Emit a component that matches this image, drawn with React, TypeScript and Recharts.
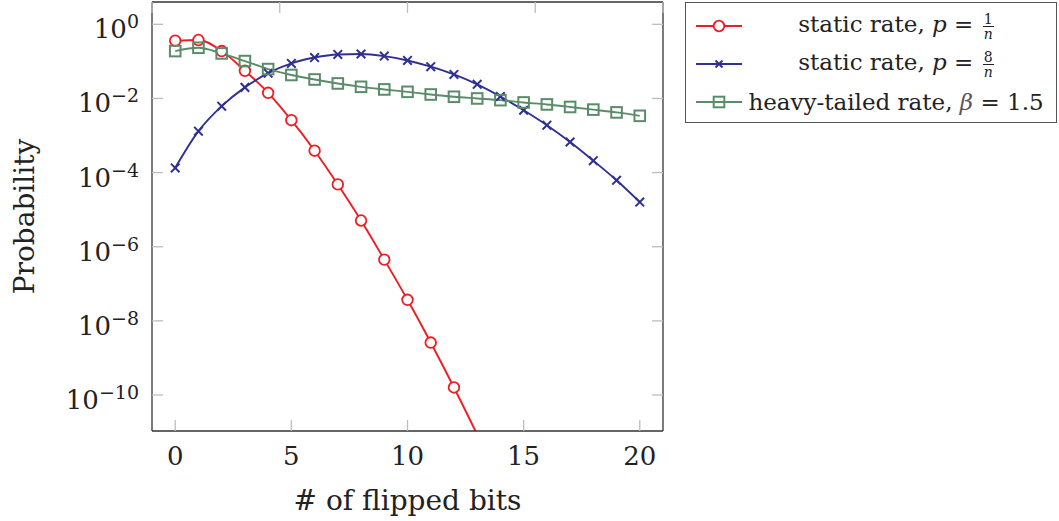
import { LineChart, Line, XAxis, YAxis } from 'recharts';

const bits = [0, 1, 2, 3, 4, 5, 6, 7, 8, 9, 10, 11, 12, 13, 14, 15, 16, 17, 18, 19, 20];
const staticOne = [0.361, 0.377, 0.19, 0.0557, 0.0142, 0.00259, 3.9e-4, 4.8e-5, 5.1e-6, 4.5e-7, 3.7e-8, 2.6e-9, 1.6e-10, 8.6e-12];
const staticEight = [1.34e-4, 1.31e-3, 6.2e-3, 0.0199, 0.048, 0.088, 0.127, 0.154, 0.158, 0.139, 0.106, 0.072, 0.0445, 0.024, 0.0113, 4.8e-3, 1.9e-3, 6.7e-4, 2.1e-4, 6.2e-5, 1.6e-5];
const heavyTailed = [0.19, 0.233, 0.164, 0.102, 0.062, 0.043, 0.0325, 0.0254, 0.0206, 0.0175, 0.0151, 0.0128, 0.0111, 0.01, 0.009, 0.0078, 0.0069, 0.0059, 0.005, 0.0042, 0.0034];
const xTicks = [0, 5, 10, 15, 20];
const yTicks = [1, 1e-2, 1e-4, 1e-6, 1e-8, 1e-10];

const data = bits.map((k, i) => ({
  k,
  s1: staticOne[i],
  s8: staticEight[i],
  ht: heavyTailed[i],
}));

const RED = '#ee1d23';
const BLUE = '#2e3192';
const GREEN = '#5b8c6a';
const FRAME = '#333';
const TICK = '#bdbdbd';
const FONT = '"DejaVu Serif", serif';
const yDomain = [1.07e-11, 4];

// points below the visible range get no marker, only the clipped line
const hidden = (props: any) => {
  const { cx, cy, value } = props;
  const v = Array.isArray(value) ? value[1] : value;
  return cx == null || cy == null || Number.isNaN(cy) || v == null || v < yDomain[0];
};

const circleDot = (props: any) => {
  if (hidden(props)) return <g key={`c${props.index}`} />;
  const { cx, cy, index } = props;
  return <circle key={`c${index}`} cx={cx} cy={cy} r={5.3} fill="#fff" stroke={RED} strokeWidth={1.8} />;
};

const crossDot = (props: any) => {
  if (hidden(props)) return <g key={`x${props.index}`} />;
  const { cx, cy, index } = props;
  const d = 4.3;
  return (
    <g key={`x${index}`} stroke={BLUE} strokeWidth={2}>
      <line x1={cx - d} y1={cy - d} x2={cx + d} y2={cy + d} />
      <line x1={cx - d} y1={cy + d} x2={cx + d} y2={cy - d} />
    </g>
  );
};

const squareDot = (props: any) => {
  if (hidden(props)) return <g key={`s${props.index}`} />;
  const { cx, cy, index } = props;
  return <rect key={`s${index}`} x={cx - 5.3} y={cy - 5.3} width={10.6} height={10.6} fill="none" stroke={GREEN} strokeWidth={2} />;
};

const LeftTick = (props: any) => {
  const { x, y, payload } = props;
  const exp = Math.round(Math.log10(payload.value));
  return (
    <g>
      <line x1={x} x2={x + 11} y1={y} y2={y} stroke={TICK} strokeWidth={1.3} />
      <text x={x - 13} y={y + 14} textAnchor="end" fontFamily={FONT} fontSize={26} fill="#222">
        10
        <tspan dy={-10} fontSize={19}>{exp === 0 ? '0' : '\u2212' + Math.abs(exp)}</tspan>
      </text>
    </g>
  );
};

const RightTick = (props: any) => {
  const { x, y } = props;
  return <line x1={x - 11} x2={x} y1={y} y2={y} stroke={TICK} strokeWidth={1.3} />;
};

const BottomTick = (props: any) => {
  const { x, y, payload } = props;
  return (
    <g>
      <line x1={x} x2={x} y1={y} y2={y - 11} stroke={TICK} strokeWidth={1.3} />
      <text x={x} y={y + 34} textAnchor="middle" fontFamily={FONT} fontSize={26} fill="#222">
        {payload.value}
      </text>
    </g>
  );
};

const TopTick = (props: any) => {
  const { x, y } = props;
  return <line x1={x} x2={x} y1={y} y2={y + 11} stroke={TICK} strokeWidth={1.3} />;
};

function Sample({ kind, color }: { kind: string; color: string }) {
  return (
    <svg width={46} height={20} style={{ display: 'block' }}>
      <line x1={0} x2={46} y1={10} y2={10} stroke={color} strokeWidth={1.8} />
      {kind === 'circle' && <circle cx={23} cy={10} r={5.3} fill="#fff" stroke={color} strokeWidth={1.8} />}
      {kind === 'cross' && (
        <g stroke={color} strokeWidth={2}>
          <line x1={19.5} y1={6.5} x2={26.5} y2={13.5} />
          <line x1={19.5} y1={13.5} x2={26.5} y2={6.5} />
        </g>
      )}
      {kind === 'square' && <rect x={17.7} y={4.7} width={10.6} height={10.6} fill="none" stroke={color} strokeWidth={2} />}
    </svg>
  );
}

function Frac({ num }: { num: string }) {
  return (
    <span style={{ display: 'inline-flex', flexDirection: 'column', alignItems: 'center', verticalAlign: 'middle', fontSize: 14, lineHeight: '14px', marginLeft: 2 }}>
      <span>{num}</span>
      <span style={{ borderTop: '1px solid #222', fontStyle: 'italic', padding: '0 1px' }}>n</span>
    </span>
  );
}

const rowStyle = { display: 'flex', alignItems: 'center', height: 38 };
const textStyle = { flex: 1, textAlign: 'center' as const, whiteSpace: 'nowrap' as const };

function ChartLegend() {
  return (
    <div
      style={{
        position: 'absolute',
        left: 685,
        top: 2,
        width: 372,
        height: 121,
        boxSizing: 'border-box',
        border: '1.3px solid #555',
        background: '#fff',
        padding: '4px 6px 0 10px',
        fontFamily: FONT,
        fontSize: 23,
        color: '#222',
      }}
    >
      <div style={rowStyle}>
        <Sample kind="circle" color={RED} />
        <span style={textStyle}>
          static rate, <i>p</i> = <Frac num="1" />
        </span>
      </div>
      <div style={rowStyle}>
        <Sample kind="cross" color={BLUE} />
        <span style={textStyle}>
          static rate, <i>p</i> = <Frac num="8" />
        </span>
      </div>
      <div style={rowStyle}>
        <Sample kind="square" color={GREEN} />
        <span style={textStyle}>
          heavy-tailed rate, <i style={{ color: '#555' }}>β</i> = 1.5
        </span>
      </div>
    </div>
  );
}

export default function App() {
  return (
    <div style={{ position: 'absolute', left: 0, top: 0, width: 1059, height: 521, background: '#fff' }}>
      <LineChart width={1059} height={521} data={data} margin={{ top: 1, right: 395, bottom: 0, left: 0 }}>
        <XAxis
          dataKey="k"
          type="number"
          domain={[-1, 21]}
          ticks={xTicks}
          allowDataOverflow
          height={90}
          tickSize={0}
          tickMargin={0}
          tickLine={false}
          tick={BottomTick}
          axisLine={{ stroke: FRAME, strokeWidth: 1.3 }}
          label={{ value: '# of flipped bits', position: 'insideBottom', offset: 11, fontFamily: FONT, fontSize: 28, fill: '#222' }}
        />
        <XAxis
          xAxisId="top"
          orientation="top"
          type="number"
          domain={[-1, 21]}
          ticks={xTicks}
          allowDataOverflow
          height={1}
          tickSize={0}
          tickMargin={0}
          tickLine={false}
          tick={TopTick}
          axisLine={{ stroke: FRAME, strokeWidth: 1.3 }}
        />
        <YAxis
          scale="log"
          type="number"
          domain={yDomain}
          ticks={yTicks}
          allowDataOverflow
          width={152}
          tickSize={0}
          tickMargin={0}
          tickLine={false}
          tick={LeftTick}
          axisLine={{ stroke: FRAME, strokeWidth: 1.3 }}
          label={{ value: 'Probability', angle: -90, position: 'insideLeft', offset: 24, fontFamily: FONT, fontSize: 28, fill: '#222', style: { textAnchor: 'middle' } }}
        />
        <YAxis
          yAxisId="right"
          orientation="right"
          scale="log"
          type="number"
          domain={yDomain}
          ticks={yTicks}
          allowDataOverflow
          width={1}
          tickSize={0}
          tickMargin={0}
          tickLine={false}
          tick={RightTick}
          axisLine={{ stroke: FRAME, strokeWidth: 1.3 }}
        />
        <Line type="monotone" dataKey="s1" stroke={RED} strokeWidth={1.9} dot={circleDot} isAnimationActive={false} />
        <Line type="monotone" dataKey="s8" stroke={BLUE} strokeWidth={1.9} dot={crossDot} isAnimationActive={false} />
        <Line type="monotone" dataKey="ht" stroke={GREEN} strokeWidth={1.9} dot={squareDot} isAnimationActive={false} />
      </LineChart>
      <ChartLegend />
    </div>
  );
}
